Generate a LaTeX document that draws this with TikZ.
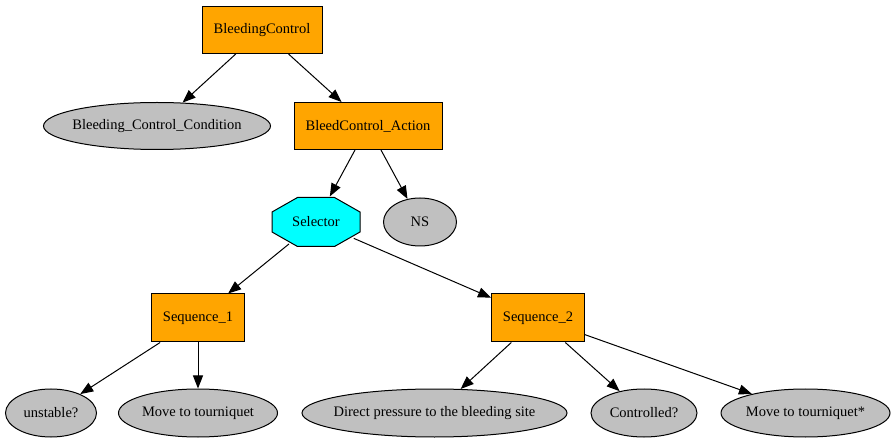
\documentclass[tikz,border=0pt]{standalone}
\usepackage{fontspec}
\setmainfont{Liberation Serif}
\usetikzlibrary{arrows.meta,shapes.geometric,calc}
\definecolor{gvorange}{HTML}{FFA500}
\definecolor{gvcyan}{HTML}{00FFFF}
\definecolor{gvgray}{HTML}{C0C0C0}
\newcommand{\zw}[1]{\makebox[0pt]{#1}}
\tikzset{
  base/.style={draw=black,line width=1pt,inner sep=0pt,font=\fontsize{14.5}{17}\selectfont},
  actbox/.style={base,rectangle,fill=gvorange,minimum height=47pt},
  leaf/.style={base,ellipse,fill=gvgray,minimum height=48pt},
  conn/.style={line width=1pt,-{Triangle[length=13pt,width=10pt]}},
}
\begin{document}
\begin{tikzpicture}[x=1pt,y=-1pt]
\useasboundingbox (0,0) rectangle (894,443);
% nodes
\node[actbox,minimum width=120pt] (bc) at (262,30) {BleedingControl};
\node[leaf,minimum width=227pt,minimum height=47pt] (cond) at (157,126) {\zw{Bleeding\_Control\_Condition}};
\node[actbox,minimum width=148pt] (act) at (368,126) {BleedControl\_Action};
% selector octagon (invisible ellipse for connector clipping)
\node[ellipse,inner sep=0pt,minimum width=95pt,minimum height=53pt] (sel) at (316,222) {};
\filldraw[fill=gvcyan,draw=black,line width=1pt]
  ($(sel.center)+(-18.5,-24.5)$) -- ($(sel.center)+(18.5,-24.5)$) --
  ($(sel.center)+(44,-10)$) -- ($(sel.center)+(44,10)$) --
  ($(sel.center)+(18.5,24.5)$) -- ($(sel.center)+(-18.5,24.5)$) --
  ($(sel.center)+(-44,10)$) -- ($(sel.center)+(-44,-10)$) -- cycle;
\node[font=\fontsize{14.5}{17}\selectfont] (seltext) at (sel.center) {Selector};
\node[leaf,minimum width=73pt] (ns) at (420,222) {\zw{NS}};
\node[actbox,minimum width=93pt,minimum height=48pt] (s1) at (198,318) {Sequence\_1};
\node[actbox,minimum width=93pt,minimum height=48pt] (s2) at (538,318) {Sequence\_2};
\node[leaf,minimum width=91pt] (unst) at (51,413) {\zw{unstable?}};
\node[leaf,minimum width=159pt] (mt1) at (198,413) {\zw{Move to tourniquet}};
\node[leaf,minimum width=265pt] (dp) at (434.5,413) {\zw{Direct pressure to the bleeding site}};
\node[leaf,minimum width=106pt] (ctl) at (644,413) {\zw{Controlled?}};
\node[leaf,minimum width=169pt] (mt2) at (805.5,413) {\zw{Move to tourniquet*}};
% connectors
\draw[conn] (bc) -- (cond);
\draw[conn] (bc) -- (act);
\draw[conn] (act) -- (sel);
\draw[conn] (act) -- (ns);
\draw[conn] (sel) -- (s1);
\draw[conn] (sel) -- (s2);
\draw[conn] (s1) -- (unst);
\draw[conn] (s1) -- (mt1);
\draw[conn] (s2) -- (dp);
\draw[conn] (s2) -- (ctl);
\draw[conn] (s2) -- (mt2);
\end{tikzpicture}
\end{document}
